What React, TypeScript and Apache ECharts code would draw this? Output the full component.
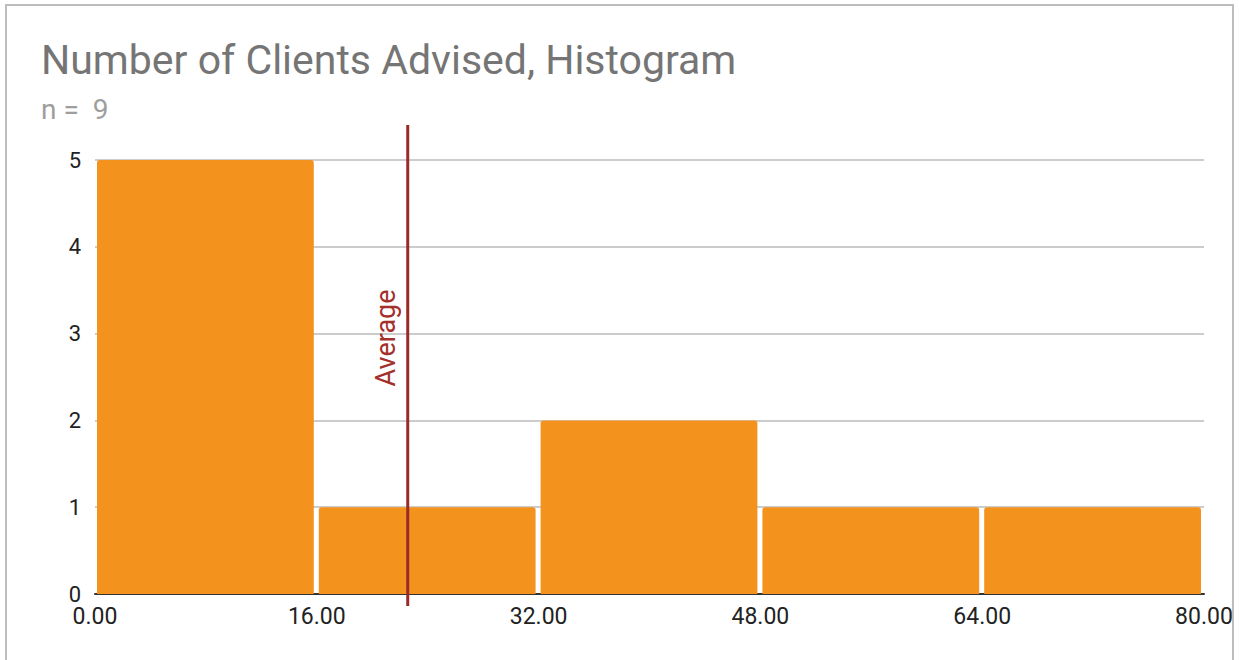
import React, { useEffect, useRef } from "react";
import * as echarts from "echarts";

const TITLE = "Number of Clients Advised, Histogram";
const SUBTITLE = "n =  9";
const binStarts = [0, 16, 32, 48, 64];
const binEnds = [16, 32, 48, 64, 80];
const counts = [5, 1, 2, 1, 1];
const AVERAGE = 22.56;
const AVERAGE_LABEL = "Average";
const LABEL_LEVEL = 2.95;

export default function App() {
  const ref = useRef<HTMLDivElement>(null);
  useEffect(() => {
    const chart = echarts.init(ref.current!, null, { renderer: "svg" });
    const barData = counts.map((c, i) => [binStarts[i], binEnds[i], c]);
    chart.setOption({
      animation: false,
      backgroundColor: "#ffffff",
      textStyle: { fontFamily: "Roboto" },
      title: {
        text: TITLE,
        subtext: SUBTITLE,
        left: 36,
        top: 34,
        itemGap: 15,
        textStyle: { fontFamily: "Roboto", fontSize: 41, fontWeight: "normal", color: "#757575" },
        subtextStyle: { fontFamily: "Roboto", fontSize: 28, color: "#9e9e9e" },
      },
      graphic: [
        {
          type: "rect",
          shape: { x: 6, y: 5, width: 1227, height: 680 },
          style: { fill: "none", stroke: "#bdbdbd", lineWidth: 2 },
          silent: true,
          z: 100,
        },
      ],
      grid: { left: 95, right: 35, top: 160, bottom: 66 },
      xAxis: {
        type: "value",
        min: 0,
        max: 80,
        interval: 16,
        axisLine: { lineStyle: { color: "#333333", width: 2 } },
        axisTick: { show: false },
        splitLine: { show: false },
        axisLabel: {
          formatter: (v: number) => v.toFixed(2),
          color: "#222222",
          fontSize: 23,
          fontFamily: "Roboto",
          margin: 11,
          showMaxLabel: true,
          showMinLabel: true,
        },
      },
      yAxis: {
        type: "value",
        min: 0,
        max: 5,
        interval: 1,
        axisLine: { show: false },
        axisTick: { show: false },
        splitLine: { lineStyle: { color: "#cccccc", width: 2 } },
        axisLabel: { color: "#222222", fontSize: 22, fontFamily: "Roboto", margin: 14 },
      },
      series: [
        {
          type: "custom",
          encode: { x: [0, 1], y: 2 },
          data: barData,
          renderItem: (params: any, api: any) => {
            const s = api.value(0);
            const e = api.value(1);
            const c = api.value(2);
            const p0 = api.coord([s, c]);
            const p1 = api.coord([e, 0]);
            return {
              type: "rect",
              shape: {
                x: p0[0] + 2,
                y: p0[1],
                width: p1[0] - p0[0] - 5,
                height: p1[1] - p0[1],
                r: [3, 3, 0, 0],
              },
              style: { fill: "#f4921e" },
            };
          },
          z: 2,
        },
        {
          type: "custom",
          encode: { x: 0, y: 1 },
          data: [[AVERAGE, 0]],
          clip: false,
          z: 5,
          renderItem: (params: any, api: any) => {
            const x = api.value(0);
            const pBottom = api.coord([x, 0]);
            const pTop = api.coord([x, 5]);
            const pLabel = api.coord([x, LABEL_LEVEL]);
            return {
              type: "group",
              children: [
                {
                  type: "line",
                  shape: { x1: pBottom[0], y1: pTop[1] - 35, x2: pBottom[0], y2: pBottom[1] + 12 },
                  style: { stroke: "#9b2a26", lineWidth: 3 },
                },
                {
                  type: "text",
                  x: pBottom[0] - 22,
                  y: pLabel[1],
                  rotation: Math.PI / 2,
                  style: {
                    text: AVERAGE_LABEL,
                    fill: "#a3302b",
                    fontSize: 27,
                    fontFamily: "Roboto",
                    align: "center",
                    verticalAlign: "middle",
                  },
                },
              ],
            };
          },
        },
      ],
    });
    return () => chart.dispose();
  }, []);
  return (
    <div
      ref={ref}
      style={{ position: "absolute", left: 0, top: 0, width: 1239, height: 660 }}
    />
  );
}
